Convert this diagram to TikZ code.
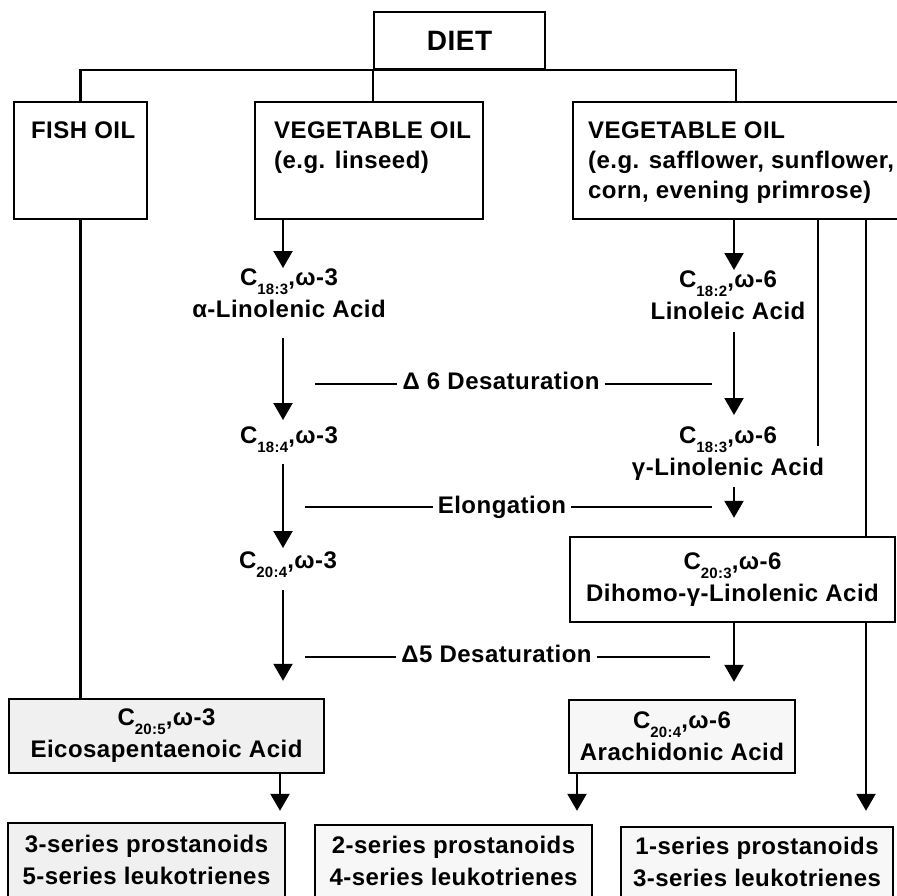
\documentclass[tikz,border=0pt]{standalone}
\usepackage{fontspec}
\setmainfont{Liberation Sans}[LetterSpace=2]
\usetikzlibrary{arrows.meta}
\newcommand{\lo}[1]{\raisebox{-9pt}{\fontsize{15}{15}\selectfont #1}}

\begin{document}
\begin{tikzpicture}[x=1pt,y=-1pt,line width=2.2pt,
  every node/.style={font=\fontsize{24}{30}\selectfont\bfseries},
  box/.style={draw,line width=2.4pt,inner sep=0pt},
  acid/.style={inner sep=0pt,anchor=north,align=center,font=\fontsize{24}{32}\selectfont\bfseries},
  enz/.style={inner sep=4pt},
  flow/.style={-{Triangle[width=19pt,length=17pt]}}]
\useasboundingbox (0,0) rectangle (897,895);
\clip (0,0) rectangle (897,895);
\fill[white] (0,0) rectangle (897,895);

% sources
\node[box,minimum width=171pt,minimum height=57pt,font=\fontsize{28}{30}\selectfont\bfseries] (diet) at (459.5,40.5) {DIET\hspace{21pt}};
\node[box,minimum width=133pt,minimum height=117pt] (fish) at (80.5,160.5) {};
\node[anchor=north west,inner sep=0pt] (fishtxt) at (30,121) {FISH OIL};
\node[box,minimum width=228pt,minimum height=117pt] (vega) at (369,160.5) {};
\node[anchor=north west,inner sep=0pt,align=left] (vegatxt) at (273,121) {VEGETABLE OIL\\(e.g. linseed)};
\node[box,minimum width=326pt,minimum height=117pt] (vegb) at (736,160.5) {};
\node[anchor=north west,inner sep=0pt,align=left] (vegbtxt) at (587,121) {VEGETABLE OIL\\(e.g. safflower, sunflower,\\corn, evening primrose)};

% fatty acids
\node[acid] (ala) at (289,268) {C\lo{18:3},ω-3\\α-Linolenic Acid};
\node[acid] (la) at (728,270) {C\lo{18:2},ω-6\\Linoleic Acid};
\node[acid] (sda) at (289,426) {C\lo{18:4},ω-3};
\node[acid] (gla) at (728,426) {C\lo{18:3},ω-6\\γ-Linolenic Acid};
\node[acid] (eta) at (288,551) {C\lo{20:4},ω-3};
\node[box,align=center,minimum width=325pt,minimum height=85pt,font=\fontsize{24}{32}\selectfont\bfseries] (dgla) at (732.5,579.5) {C\lo{20:3},ω-6\\Dihomo-γ-Linolenic Acid};
\node[box,fill=gray!12,align=center,minimum width=315pt,minimum height=74pt,font=\fontsize{24}{32}\selectfont\bfseries] (epa) at (166.5,736) {C\lo{20:5},ω-3\\Eicosapentaenoic Acid};
\node[box,fill=gray!6,align=center,minimum width=226pt,minimum height=73pt,font=\fontsize{24}{32}\selectfont\bfseries] (aa) at (682,736.5) {C\lo{20:4},ω-6\\Arachidonic Acid};

% products
\node[box,fill=gray!12,align=center,minimum width=277pt,minimum height=74pt,font=\fontsize{24}{32}\selectfont\bfseries] (ser3) at (146.5,860) {3-series prostanoids\\5-series leukotrienes};
\node[box,fill=gray!6,align=center,minimum width=277pt,minimum height=72pt,font=\fontsize{24}{32}\selectfont\bfseries] (ser2) at (453.5,861) {2-series prostanoids\\4-series leukotrienes};
\node[box,fill=gray!6,align=center,minimum width=272pt,minimum height=70pt,font=\fontsize{24}{32}\selectfont\bfseries] (ser1) at (757,862) {1-series prostanoids\\3-series leukotrienes};

% enzymes
\node[enz] (d6) at (501,381) {Δ 6 Desaturation};
\node[enz] (el) at (502,507) {Elongation};
\node[enz] (d5) at (496.5,654) {Δ5 Desaturation};
\coordinate (d6l) at (315,384);
\coordinate (d6r) at (712,384);
\coordinate (ell) at (305,507);
\coordinate (elr) at (712,507);
\coordinate (d5l) at (305,657);
\coordinate (d5r) at (710,657);
\draw (d6l) -- (d6l -| d6.west);
\draw (d6r -| d6.east) -- (d6r);
\draw (ell) -- (ell -| el.west);
\draw (elr -| el.east) -- (elr);
\draw (d5l) -- (d5l -| d5.west);
\draw (d5r -| d5.east) -- (d5r);

\coordinate (colL) at (283,0);
\coordinate (colR) at (734,0);
\coordinate (epaout) at (280,0);
\coordinate (aaout) at (577,0);
\coordinate (rx) at (866,0);
\coordinate (gx) at (818,0);
\coordinate (gend) at (818,446);

\draw (fish.north) |- (diet.south) -| (vegb.north);
\draw (diet.south west) -- (diet.south west |- vega.north);
\draw (fish.south) -- (fish.south |- epa.north);

\draw[flow] (colL |- vega.south) -- (colL |- ala.north);
\draw[flow,shorten <=19pt,shorten >=6pt] (colL |- ala.south) -- (colL |- sda.north);
\draw[flow,shorten <=10pt,shorten >=3pt] (colL |- sda.south) -- (colL |- eta.north);
\draw[flow,shorten <=11pt,shorten >=17pt] (colL |- eta.south) -- (colL |- epa.north);
\draw[flow,shorten >=11pt] (epaout |- epa.south) -- (epaout |- ser3.north);

\draw[flow] (colR |- vegb.south) -- (colR |- la.north);
\draw[flow,shorten <=11pt,shorten >=11pt] (colR |- la.south) -- (colR |- gla.north);
\draw[flow,shorten <=5pt,shorten >=18pt] (colR |- gla.south) -- (colR |- dgla.north);
\draw[flow,shorten >=17pt] (colR |- dgla.south) -- (colR |- aa.north);
\draw[flow,shorten >=13pt] (aaout |- aa.south) -- (aaout |- ser2.north);

\draw (gx |- vegb.south) -- (gend);
\draw (rx |- vegb.south) -- (rx |- dgla.north);
\draw[flow,shorten >=15pt] (rx |- dgla.south) -- (rx |- ser1.north);
\end{tikzpicture}
\end{document}
